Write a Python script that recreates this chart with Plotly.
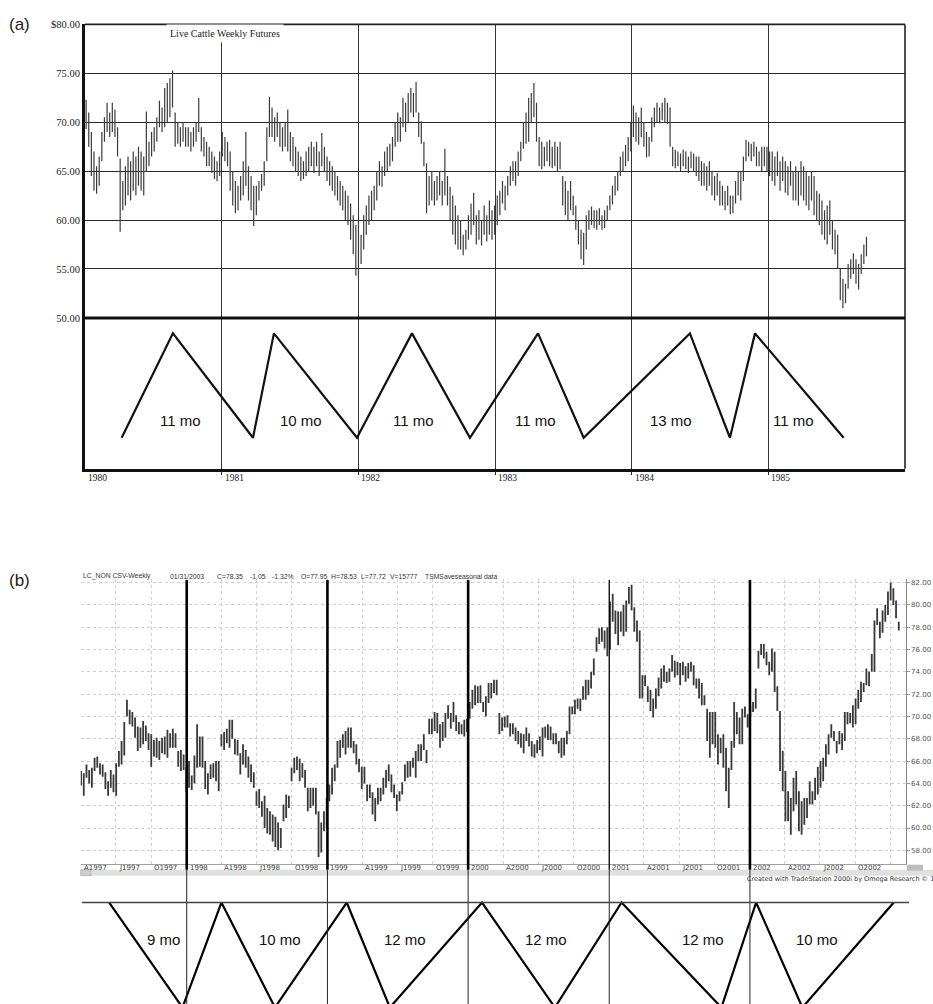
import plotly.graph_objects as go
import pandas as pd

W, H = 933, 1004


def px_x(p):
    return p / W


def px_y(p):
    return 1 - p / H


# ---------------- Panel (a): Live Cattle weekly futures 1980-1985 ----------------
a_start = "1980-01-04"
a_high = [
    72.3, 71.0, 69.0, 67.0, 65.5, 66.5, 69.0, 70.5, 72.0, 71.0, 72.0, 71.3, 69.5,
    66.3, 64.0, 65.5, 66.5, 66.0, 67.0, 66.5, 67.5, 67.0, 66.5, 71.1, 68.0, 69.0,
    69.5, 70.5, 72.2, 71.5, 73.5, 74.0, 74.5, 75.3, 71.0, 70.0, 69.5, 70.0, 69.5,
    69.5, 69.0, 69.5, 70.0, 72.5, 69.5, 68.5, 68.0, 67.5, 67.0, 66.5, 66.0, 67.0,
    69.0, 68.5, 68.0, 67.0, 65.0, 64.0, 63.5, 64.5, 66.0, 69.0, 65.5, 64.5, 63.5,
    63.5, 64.0, 64.7, 66.0, 69.5, 72.6, 71.5, 70.5, 71.0, 70.0, 69.5, 70.0, 71.3,
    69.0, 68.5, 67.5, 67.0, 66.5, 66.0, 67.0, 67.5, 68.0, 67.5, 68.0, 67.0, 68.9,
    67.5, 66.5, 66.0, 65.5, 65.0, 64.5, 64.0, 63.5, 63.0, 62.5, 61.7, 60.5, 59.5,
    60.0, 58.5, 60.5, 61.5, 62.5, 63.0, 63.5, 65.0, 66.0, 65.5, 67.0, 67.5, 67.8,
    68.5, 70.0, 71.0, 70.5, 72.5, 72.0, 73.0, 73.5, 73.0, 74.1, 71.0, 70.1, 68.0,
    65.8, 64.5, 65.0, 64.0, 64.5, 65.0, 64.0, 67.3, 64.5, 63.4, 62.5, 61.5, 60.5,
    60.0, 58.5, 59.0, 60.5, 61.7, 62.8, 60.5, 61.0, 60.0, 61.5, 60.5, 62.0, 61.0,
    61.5, 62.5, 63.0, 64.0, 63.5, 64.5, 65.5, 66.0, 66.0, 67.0, 68.0, 70.0, 71.0,
    72.5, 73.0, 74.0, 72.0, 68.5, 68.0, 67.5, 68.0, 68.2, 67.5, 68.0, 67.5, 68.0,
    64.5, 64.0, 63.0, 64.0, 62.5, 61.5, 60.0, 59.0, 58.7, 60.5, 61.0, 61.4, 61.0,
    61.0, 61.2, 60.5, 61.0, 61.5, 62.5, 63.5, 64.5, 65.0, 66.5, 67.0, 67.7, 68.5,
    70.0, 71.7, 71.0, 70.5, 71.5, 70.0, 69.0, 68.5, 70.5, 71.5, 72.0, 71.5, 72.0,
    72.5, 72.0, 71.5, 67.5, 67.2, 67.0, 66.8, 67.2, 67.0, 66.5, 67.0, 66.8, 66.5,
    66.5, 66.0, 65.8, 65.5, 66.0, 65.0, 64.5, 64.8, 64.0, 63.5, 63.0, 63.5, 62.5,
    62.5, 64.0, 65.0, 65.0, 66.5, 68.2, 68.0, 67.8, 68.0, 67.5, 67.0, 67.5, 67.5,
    67.5, 67.0, 67.0, 66.5, 67.0, 66.0, 66.5, 66.0, 65.5, 66.0, 65.0, 65.5, 65.0,
    66.0, 65.5, 65.0, 64.5, 65.0, 64.5, 63.0, 62.7, 62.0, 61.0, 61.5, 62.0, 60.0,
    59.0, 58.5, 55.0, 54.0, 53.5, 55.5, 56.0, 56.6, 56.0, 55.5, 56.5, 57.5, 58.3,
]
a_low = [
    69.3, 67.5, 64.5, 63.0, 62.7, 63.5, 66.0, 68.0, 69.0, 68.5, 69.0, 68.5, 66.5,
    58.8, 61.0, 61.5, 62.5, 62.0, 63.0, 62.5, 63.5, 63.0, 62.5, 65.0, 65.5, 66.5,
    67.0, 68.0, 69.5, 69.0, 69.5, 70.0, 70.5, 71.5, 67.5, 67.8, 67.5, 68.0, 67.5,
    67.5, 67.0, 67.5, 68.0, 69.0, 67.0, 66.5, 65.5, 65.5, 64.8, 64.2, 64.0, 64.5,
    66.5, 66.0, 65.5, 63.0, 61.5, 60.7, 61.0, 62.0, 62.5, 63.5, 62.0, 61.0, 59.4,
    60.5, 62.0, 63.0, 63.5, 66.0, 68.5, 68.5, 68.0, 68.5, 67.5, 67.0, 67.5, 67.0,
    66.0, 65.5, 65.0, 64.5, 64.0, 64.2, 64.5, 65.0, 65.5, 64.8, 65.5, 64.5, 65.5,
    65.0, 64.0, 63.5, 63.0, 62.5, 62.0, 61.5, 61.0, 60.0, 59.5, 58.0, 56.5, 54.3,
    54.0, 55.5, 57.0, 58.5, 59.5, 60.0, 61.0, 62.0, 63.5, 63.4, 64.5, 65.0, 65.5,
    66.0, 67.5, 68.0, 68.0, 69.5, 69.0, 70.0, 71.0, 70.5, 71.0, 68.5, 67.8, 65.5,
    60.7, 61.5, 62.0, 61.5, 62.0, 62.5, 61.5, 62.5, 61.5, 60.0, 58.5, 57.5, 57.0,
    57.0, 56.4, 57.0, 58.0, 58.5, 59.5, 57.5, 58.0, 57.4, 58.5, 57.8, 58.5, 58.0,
    58.5, 59.5, 60.5, 61.7, 61.0, 62.5, 63.5, 64.0, 63.5, 64.5, 66.0, 67.3, 67.8,
    68.0, 70.0, 70.5, 68.0, 65.5, 65.2, 65.5, 66.0, 65.5, 65.3, 65.5, 65.0, 65.2,
    61.5, 60.5, 60.0, 61.0, 60.5, 59.0, 57.5, 56.0, 55.4, 57.0, 59.0, 59.5, 59.2,
    59.0, 59.5, 59.0, 59.2, 60.0, 61.0, 61.6, 62.5, 63.0, 64.5, 65.0, 65.5, 66.0,
    67.0, 68.5, 68.0, 67.7, 68.5, 67.5, 66.4, 66.5, 68.0, 69.5, 70.0, 69.9, 70.2,
    70.0, 69.8, 67.5, 65.5, 65.3, 65.5, 65.0, 65.5, 65.2, 64.8, 65.3, 65.0, 64.5,
    64.0, 63.5, 63.5, 63.0, 63.5, 62.5, 62.0, 62.5, 61.5, 61.5, 61.0, 61.5, 60.6,
    60.7, 61.7, 62.5, 62.0, 64.0, 66.0, 66.5, 66.0, 66.5, 65.5, 65.5, 65.0, 65.5,
    65.0, 64.5, 64.0, 63.5, 64.5, 63.0, 64.0, 62.8, 62.5, 63.5, 62.0, 62.0, 61.5,
    62.5, 62.0, 61.5, 61.0, 62.0, 60.5, 60.0, 59.5, 58.5, 58.0, 57.5, 58.5, 57.0,
    56.5, 55.0, 51.8, 51.0, 51.5, 53.0, 54.0, 54.5, 53.5, 52.9, 54.5, 55.5, 56.3,
]
a_price_ticks = [50, 55, 60, 65, 70, 75, 80]
a_price_ticktext = ["50.00", "55.00", "60.00", "65.00", "70.00", "75.00", "$80.00"]
a_years = ["1980", "1981", "1982", "1983", "1984", "1985"]
a_cycle_dates = ["1980-04-08", "1980-08-23", "1981-03-25", "1981-05-20", "1981-12-28",
                 "1982-05-24", "1982-10-26", "1983-04-26", "1983-08-26", "1984-06-05",
                 "1984-09-20", "1984-11-26", "1985-07-21"]
a_cycle_vals = [37.75, 48.42, 37.75, 48.42, 37.75, 48.42, 37.75, 48.42, 37.75, 48.42,
                37.75, 48.42, 37.75]
a_cycle_labels = ["11 mo", "10 mo", "11 mo", "11 mo", "13 mo", "11 mo"]
a_label_dates = ["1980-09-11", "1981-07-31", "1982-05-29", "1983-04-20", "1984-04-15", "1985-03-10"]
a_label_val = 39.5

# ---------------- Panel (b): LC weekly 1997-2003 ----------------
b_start = "1997-04-02"
b_high = [
    65.1, 64.9, 65.7, 65.2, 65.4, 66.3, 66.4, 65.8, 65.7, 65.0, 64.2, 65.2, 64.8,
    65.8, 66.9, 67.8, 69.5, 71.5, 70.6, 70.4, 69.9, 69.1, 69.0, 69.6, 69.2, 68.5,
    68.4, 67.9, 68.1, 67.8, 68.1, 68.2, 68.8, 68.5, 68.9, 68.5, 66.9, 67.0, 66.6,
    65.5, 66.0, 64.7, 66.5, 69.3, 68.2, 68.2, 66.0, 64.9, 65.7, 65.8, 66.0, 66.0,
    68.4, 68.6, 68.9, 69.7, 69.7, 68.0, 67.9, 66.7, 67.5, 67.0, 66.4, 65.7, 65.0,
    63.3, 63.5, 62.4, 62.9, 61.8, 61.5, 61.2, 61.0, 60.5, 60.0, 62.1, 63.0, 62.9,
    65.4, 66.3, 66.4, 66.2, 65.8, 65.2, 63.6, 63.6, 63.6, 63.6, 61.5, 60.5, 61.5,
    62.7, 63.9, 65.4, 65.7, 67.8, 67.9, 68.4, 68.7, 69.0, 69.0, 67.8, 67.5, 66.2,
    65.5, 65.5, 63.9, 63.9, 63.2, 62.7, 63.6, 63.6, 64.5, 65.2, 65.7, 64.8, 63.9,
    63.0, 63.3, 64.1, 65.7, 66.0, 66.0, 66.3, 66.9, 67.5, 67.5, 68.4, 67.0, 69.8,
    69.8, 70.4, 70.3, 69.3, 69.5, 70.3, 71.0, 70.3, 71.3, 70.1, 69.5, 69.3, 69.7,
    69.8, 71.3, 72.4, 72.8, 72.7, 72.8, 71.3, 71.8, 73.0, 73.0, 73.3, 73.3, 70.3,
    69.9, 70.0, 70.1, 69.4, 69.4, 69.0, 68.7, 68.5, 68.4, 69.0, 68.5, 67.8, 67.5,
    67.9, 68.2, 69.0, 69.1, 69.3, 69.1, 68.5, 68.5, 67.8, 68.1, 68.1, 68.7, 70.9,
    70.9, 71.5, 71.6, 71.6, 72.7, 73.3, 73.3, 74.0, 75.2, 77.1, 77.9, 78.0, 77.7,
    78.0, 80.3, 81.0, 79.5, 79.4, 79.4, 80.0, 80.4, 81.6, 81.8, 79.8, 78.6, 77.7,
    73.7, 73.7, 72.7, 72.4, 71.6, 72.5, 73.5, 74.3, 74.6, 74.0, 74.3, 75.5, 75.0,
    74.9, 74.8, 74.9, 74.5, 74.8, 74.9, 74.6, 73.4, 73.4, 73.0, 71.9, 70.7, 70.4,
    70.4, 70.4, 68.4, 68.1, 68.4, 67.2, 65.4, 67.8, 71.3, 70.4, 69.9, 70.7, 70.9,
    70.2, 71.0, 71.3, 72.5, 75.9, 76.5, 76.5, 75.8, 74.9, 76.1, 75.8, 72.7, 70.5,
    66.9, 65.1, 63.3, 62.7, 64.5, 65.1, 63.3, 62.4, 62.7, 62.7, 64.2, 63.3, 64.5,
    65.5, 66.0, 66.3, 67.5, 68.4, 69.3, 68.7, 67.8, 68.7, 68.5, 70.4, 70.4, 70.3,
    71.0, 71.6, 72.4, 73.1, 73.0, 74.3, 74.0, 75.6, 78.6, 79.7, 78.5, 79.5, 80.0,
    81.2, 82.0, 81.5, 80.4, 78.5,
]
b_low = [
    63.8, 62.9, 64.5, 64.0, 63.6, 65.1, 65.4, 64.8, 64.6, 63.5, 62.9, 63.6, 63.2,
    62.9, 65.5, 65.7, 66.5, 70.0, 69.3, 69.1, 68.1, 66.9, 67.2, 67.5, 67.8, 67.0,
    65.5, 66.4, 66.3, 66.1, 66.7, 66.6, 66.3, 67.2, 67.2, 67.2, 65.5, 65.1, 65.2,
    63.2, 63.6, 63.4, 64.0, 65.4, 65.5, 65.4, 63.5, 63.0, 64.4, 64.5, 64.2, 63.3,
    67.3, 67.0, 67.6, 67.2, 68.0, 66.6, 66.5, 64.8, 65.7, 65.4, 64.5, 64.1, 63.6,
    62.0, 61.8, 61.0, 60.0, 59.5, 59.4, 58.8, 58.3, 58.0, 58.2, 60.6, 60.9, 61.8,
    64.2, 64.9, 65.2, 64.2, 64.5, 63.6, 61.5, 61.8, 62.0, 61.2, 57.4, 57.8, 59.7,
    60.0, 62.4, 63.0, 64.2, 65.4, 66.3, 67.2, 66.6, 67.2, 67.2, 66.7, 65.7, 65.0,
    63.5, 64.0, 62.4, 62.7, 61.2, 60.6, 62.1, 62.4, 63.0, 63.6, 64.2, 63.2, 62.7,
    61.5, 62.4, 63.0, 64.2, 64.5, 64.6, 65.4, 64.5, 66.0, 66.0, 67.0, 65.8, 68.4,
    68.4, 68.7, 68.5, 67.2, 67.8, 68.1, 69.8, 68.9, 69.5, 68.7, 68.4, 68.4, 68.2,
    68.6, 69.8, 70.7, 71.0, 71.2, 71.2, 70.4, 70.0, 71.2, 71.6, 72.1, 71.9, 68.4,
    68.7, 69.0, 69.0, 68.2, 68.4, 67.8, 67.5, 67.2, 66.7, 67.8, 67.3, 66.4, 66.3,
    66.7, 67.0, 66.4, 68.1, 67.9, 67.9, 67.5, 67.5, 66.7, 66.3, 66.5, 67.5, 68.4,
    70.2, 70.2, 70.7, 70.5, 71.5, 71.5, 71.9, 72.5, 73.7, 75.8, 76.5, 76.7, 76.1,
    75.4, 76.0, 78.5, 77.4, 76.4, 77.6, 77.2, 77.6, 80.1, 79.5, 77.6, 76.7, 71.6,
    71.6, 72.7, 71.3, 70.5, 69.9, 70.7, 71.8, 72.5, 73.1, 73.0, 73.1, 74.0, 73.5,
    73.7, 72.8, 73.7, 73.1, 73.4, 74.0, 72.8, 72.5, 71.6, 71.0, 71.0, 67.8, 66.3,
    67.5, 67.2, 65.7, 66.7, 65.4, 63.3, 61.8, 65.2, 67.2, 68.4, 67.5, 67.5, 69.9,
    69.0, 69.9, 70.4, 70.7, 74.3, 75.5, 75.2, 74.6, 73.7, 74.0, 72.2, 70.5, 65.1,
    63.3, 60.6, 60.6, 59.4, 61.5, 62.1, 59.7, 59.4, 60.3, 60.9, 62.1, 62.1, 62.5,
    63.0, 63.6, 64.2, 65.5, 66.6, 68.1, 67.8, 66.7, 67.5, 67.0, 67.8, 69.3, 69.4,
    69.0, 69.3, 70.7, 71.3, 72.2, 72.8, 72.7, 74.0, 74.0, 78.2, 77.0, 77.5, 78.5,
    79.1, 80.4, 80.0, 78.8, 77.7,
]
b_price_ticks = [58, 60, 62, 64, 66, 68, 70, 72, 74, 76, 78, 80, 82]
b_quarters = ["1997-04-01", "1997-07-01", "1997-10-01", "1998-01-01", "1998-04-01", "1998-07-01",
              "1998-10-01", "1999-01-01", "1999-04-01", "1999-07-01", "1999-10-01", "2000-01-01",
              "2000-04-01", "2000-07-01", "2000-10-01", "2001-01-01", "2001-04-01", "2001-07-01",
              "2001-10-01", "2002-01-01", "2002-04-01", "2002-07-01", "2002-10-01", "2003-01-01"]
b_quarter_labels = ["A1997", "J1997", "O1997", "1998", "A1998", "J1998", "O1998", "1999",
                    "A1999", "J1999", "O1999", "2000", "A2000", "J2000", "O2000", "2001",
                    "A2001", "J2001", "O2001", "2002", "A2002", "J2002", "O2002", ""]
b_cycle_lines = ["1998-01-01", "1999-01-01", "2000-01-01", "2001-01-01", "2002-01-01"]
b_cycle_dates = ["1997-06-14", "1997-12-21", "1998-04-01", "1998-08-18", "1999-02-20",
                 "1999-06-12", "2000-02-06", "2000-08-13", "2001-02-02", "2001-10-19",
                 "2002-01-17", "2002-05-17", "2003-01-09"]
b_cycle_vals = [1, 0, 1, 0, 1, 0, 1, 0, 1, 0, 1, 0, 1]
b_cycle_labels = ["9 mo", "10 mo", "12 mo", "12 mo", "12 mo", "10 mo"]
b_label_dates = ["1997-11-01", "1998-09-01", "1999-07-21", "2000-07-21", "2001-09-02", "2002-06-25"]
b_label_val = 0.65
b_header = ["LC_NON CSV-Weekly", "01/31/2003", "C=78.35", "-1.05", "-1.32%", "O=77.95",
            "H=78.53", "L=77.72", "V=15777", "TSMSaveseasonal data"]
b_header_px = [80.7, 168, 215, 248, 270, 299, 329, 359, 388, 423]


def bar_xy(dates, lows, highs):
    xs, ys = [], []
    for d, lo, hi in zip(dates, lows, highs):
        xs += [d, d, None]
        ys += [lo, hi, None]
    return xs, ys


a_dates = pd.date_range(a_start, periods=len(a_high), freq="7D")
b_dates = pd.date_range(b_start, periods=len(b_high), freq="7D")

fig = go.Figure()
ax, ay = bar_xy(a_dates, a_low, a_high)
fig.add_trace(go.Scatter(x=ax, y=ay, mode="lines", line=dict(color="#3a3a3a", width=1.2),
                         xaxis="x", yaxis="y", hoverinfo="skip"))
fig.add_trace(go.Scatter(x=a_cycle_dates, y=a_cycle_vals, mode="lines",
                         line=dict(color="#111", width=2.2), xaxis="x", yaxis="y"))
bx, by = bar_xy(b_dates, b_low, b_high)
fig.add_trace(go.Scatter(x=bx, y=by, mode="lines", line=dict(color="#383838", width=1.8),
                         xaxis="x2", yaxis="y2", hoverinfo="skip"))
fig.add_trace(go.Scatter(x=b_cycle_dates, y=b_cycle_vals, mode="lines",
                         line=dict(color="#000", width=2.2), xaxis="x3", yaxis="y3"))

serif = "Liberation Serif, Times New Roman, serif"
sans = "Liberation Sans, Arial, sans-serif"
ts = "DejaVu Sans, Verdana, sans-serif"

b_range = ["1997-04-01", "2003-02-09"]

fig.update_layout(
    width=W, height=H, margin=dict(l=0, r=0, t=0, b=0),
    paper_bgcolor="white", plot_bgcolor="white", showlegend=False,
    xaxis=dict(type="date", domain=[px_x(85), px_x(905)], range=["1980-01-01", "1986-01-01"],
               anchor="y", tickvals=[f"{y}-01-01" for y in a_years[1:]], showticklabels=False,
               ticks="outside", ticklen=4, tickcolor="#222", showgrid=True, gridcolor="#333",
               gridwidth=1.2, showline=True, linecolor="#111", linewidth=2.5, zeroline=False),
    yaxis=dict(domain=[px_y(466), px_y(19.5)], range=[34.59, 80], anchor="x",
               tickvals=a_price_ticks, ticktext=a_price_ticktext,
               tickfont=dict(family=serif, size=10.5, color="#222"), showgrid=True,
               gridcolor="#2a2a2a", gridwidth=1.4, showline=True, linecolor="#111",
               linewidth=3, zeroline=False, ticks=""),
    xaxis2=dict(type="date", domain=[px_x(80.7), px_x(905.7)], range=b_range, anchor="y2",
                tickvals=b_quarters, showticklabels=False, showgrid=True, gridcolor="#cfcfcf",
                griddash="dot", gridwidth=1, showline=True, linecolor="#a0a0a0", linewidth=1,
                zeroline=False, ticks=""),
    yaxis2=dict(domain=[px_y(863), px_y(577)], range=[56.80, 82.31], anchor="x2", side="right",
                tickvals=b_price_ticks, ticktext=[f"{v:.2f}" for v in b_price_ticks],
                tickfont=dict(family=ts, size=7, color="#555"), showgrid=True,
                gridcolor="#cfcfcf", griddash="dot", gridwidth=1, showline=True,
                linecolor="#888", linewidth=1, ticks="outside", ticklen=3, tickcolor="#999",
                zeroline=False),
    xaxis3=dict(type="date", domain=[px_x(80.7), px_x(905.7)], range=b_range, anchor="y3",
                visible=False),
    yaxis3=dict(domain=[0, px_y(895)], range=[0.0332, 1.0664], anchor="x3", visible=False),
)

shapes = []
shapes.append(dict(type="line", xref="paper", yref="paper", x0=px_x(85), x1=px_x(905),
                   y0=px_y(19.5), y1=px_y(19.5), line=dict(color="#222", width=1.6)))
shapes.append(dict(type="line", xref="paper", yref="paper", x0=px_x(905), x1=px_x(905),
                   y0=px_y(466), y1=px_y(19.5), line=dict(color="#222", width=1.6)))
shapes.append(dict(type="line", xref="x domain", yref="y", x0=0, x1=1, y0=50, y1=50,
                   line=dict(color="#111", width=3)))
for d in b_cycle_lines:
    wid = 1.3 if d.startswith("2001") else 2.6
    shapes.append(dict(type="line", xref="x2", yref="paper", x0=d, x1=d,
                       y0=px_y(869), y1=px_y(578), line=dict(color="#000", width=wid)))
    shapes.append(dict(type="line", xref="x2", yref="paper", x0=d, x1=d,
                       y0=0, y1=px_y(869), line=dict(color="#222", width=1)))
shapes.append(dict(type="rect", xref="paper", yref="paper", x0=px_x(80.7), x1=1.0,
                   y0=px_y(875), y1=px_y(869), fillcolor="#e0e0e0", line=dict(width=0),
                   layer="below"))
shapes.append(dict(type="rect", xref="paper", yref="paper", x0=px_x(80.7), x1=px_x(91),
                   y0=px_y(875), y1=px_y(869), fillcolor="#cdcdcd",
                   line=dict(color="#999", width=0.5)))
shapes.append(dict(type="rect", xref="paper", yref="paper", x0=px_x(907), x1=px_x(923),
                   y0=px_y(870), y1=px_y(864), fillcolor="#bdbdbd", line=dict(width=0)))
shapes.append(dict(type="line", xref="paper", yref="y3", x0=px_x(82), x1=px_x(909),
                   y0=1, y1=1, line=dict(color="#444", width=1.6)))
fig.update_layout(shapes=shapes)

ann = []
ann.append(dict(text="(a)", x=px_x(7), y=px_y(20), xref="paper", yref="paper", xanchor="left",
                yanchor="middle", showarrow=False, font=dict(family=sans, size=17, color="#222")))
ann.append(dict(text="(b)", x=px_x(7), y=px_y(578), xref="paper", yref="paper", xanchor="left",
                yanchor="middle", showarrow=False, font=dict(family=sans, size=17, color="#222")))
ann.append(dict(text="Live Cattle Weekly Futures", x=px_x(225), y=px_y(29), xref="paper",
                yref="paper", xanchor="center", yanchor="middle", showarrow=False,
                bgcolor="white", borderpad=3, font=dict(family=serif, size=10, color="#222")))
for yr in a_years:
    ann.append(dict(text=yr, x=f"{yr}-01-01", y=px_y(475), xref="x", yref="paper",
                    xanchor="left", yanchor="middle", showarrow=False, xshift=1,
                    font=dict(family=serif, size=9.5, color="#222")))
for t, d in zip(a_cycle_labels, a_label_dates):
    ann.append(dict(text=t, x=d, y=a_label_val, xref="x", yref="y", xanchor="center",
                    yanchor="middle", showarrow=False, font=dict(family=sans, size=15, color="#111")))
for t, d in zip(b_cycle_labels, b_label_dates):
    ann.append(dict(text=t, x=d, y=b_label_val, xref="x3", yref="y3", xanchor="center",
                    yanchor="middle", showarrow=False, font=dict(family=sans, size=15, color="#111")))
for t, d in zip(b_quarter_labels, b_quarters):
    if t:
        ann.append(dict(text=t, x=d, y=px_y(867), xref="x2", yref="paper", xanchor="left",
                        yanchor="middle", showarrow=False, xshift=1,
                        font=dict(family=ts, size=7, color="#444")))
for t, p in zip(b_header, b_header_px):
    ann.append(dict(text=t, x=px_x(p), y=px_y(574), xref="paper", yref="paper", xanchor="left",
                    yanchor="middle", showarrow=False, font=dict(family=sans, size=6.8, color="#333")))
ann.append(dict(text="Created with TradeStation 2000i by Omega Research \u00a9 1999",
                x=px_x(745), y=px_y(878), xref="paper", yref="paper", xanchor="left",
                yanchor="middle", showarrow=False, font=dict(family=ts, size=6.5, color="#333")))
fig.update_layout(annotations=ann)

fig.write_html("out.html", config={"displayModeBar": False},
               post_script="document.body.style.margin='0';")
